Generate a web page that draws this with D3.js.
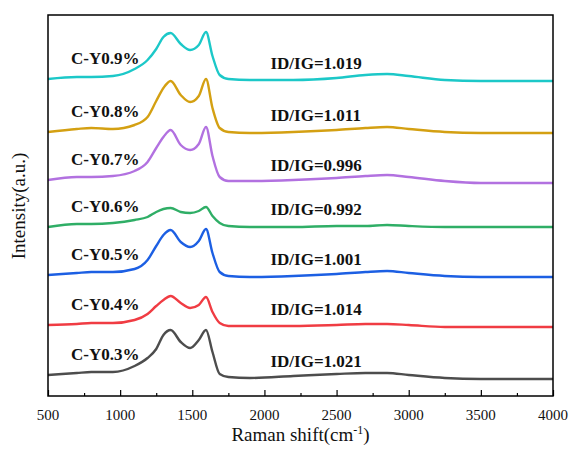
<!DOCTYPE html>
<html>
<head>
<meta charset="utf-8">
<title>Raman spectra</title>
<script src="https://d3js.org/d3.v7.min.js"></script>
<style>
    body { margin: 0; background: #fff; }
    .frame { fill: none; stroke: #000; stroke-width: 1.5px; }
    .spec { fill: none; stroke-width: 2.4px; stroke-linejoin: round; }
    .tick line { stroke: #000; stroke-width: 1.2px; }
    .lbl { font-family: "Liberation Serif"; font-weight: 700; font-size: 17px; fill: #111; }
    .axlbl { font-family: "Liberation Serif"; font-size: 15px; fill: #111; }
    .title { font-family: "Liberation Serif"; font-size: 19px; fill: #111; }
</style>
</head>
<body>
<script>
    var shift = [500, 700, 800, 950, 1100, 1190, 1250, 1300, 1350, 1420, 1485, 1545, 1595,
                 1640, 1690, 1750, 1900, 2200, 2500, 2700, 2850, 3000, 3250, 3500, 4000];

    // stacked intensities (a.u.)
    var y09 = [317, 319, 319, 320, 327, 336, 347, 359, 363, 352, 346, 351, 364, 340, 321, 317, 316, 316, 318, 321, 322, 320, 316, 315, 315];
    var y08 = [264, 267, 268, 267, 271, 279, 295, 308, 315, 301, 294, 300, 317, 288, 268, 264, 263, 264, 266, 268, 269, 267, 264, 263, 263];
    var y07 = [216, 219, 219, 220, 225, 234, 248, 259, 266, 251, 246, 252, 269, 240, 219, 215, 215, 216, 218, 220, 221, 219, 215, 213, 213];
    var y06 = [169, 172, 172, 173, 176, 179, 184, 187, 188, 184, 183, 185, 189, 180, 173, 170, 169, 169, 170, 170, 171, 170, 169, 169, 169];
    var y05 = [121, 123, 124, 124, 127, 136, 150, 161, 166, 154, 149, 155, 167, 143, 124, 120, 119, 120, 122, 124, 125, 123, 120, 119, 119];
    var y04 = [71, 72, 73, 73, 76, 82, 90, 96, 100, 93, 88, 91, 99, 84, 73, 70, 70, 70, 71, 72, 72, 71, 69, 69, 69];
    var y03 = [21, 23, 24, 24, 30, 38, 47, 61, 66, 54, 48, 56, 66, 44, 22, 19, 18, 20, 22, 23, 23, 21, 18, 17, 17];

    var samples = ["C-Y0.9%", "C-Y0.8%", "C-Y0.7%", "C-Y0.6%", "C-Y0.5%", "C-Y0.4%", "C-Y0.3%"];
    var ratios = ["1.019", "1.011", "0.996", "0.992", "1.001", "1.014", "1.021"];
    var colors = ["#1cc8c8", "#d4a012", "#b271e0", "#2fae66", "#1c5fe3", "#f03c43", "#4d4d4d"];
    var xTicks = [500, 1000, 1500, 2000, 2500, 3000, 3500, 4000];

    var series = [y09, y08, y07, y06, y05, y04, y03];

    var width = 570, height = 450;
    var mLeft = 48, mRight = 553, mTop = 15, mBottom = 396;

    var svg = d3.select("body").append("svg")
                .attr("width", width)
                .attr("height", height);

    var x = d3.scaleLinear().domain([500, 4000]).range([mLeft, mRight]);
    var y = d3.scaleLinear().domain([0, 381]).range([mBottom, mTop]);

    var line = d3.line()
                .x(function(d) { return x(d[0]); })
                .y(function(d) { return y(d[1]); })
                .curve(d3.curveMonotoneX);

    // spectra
    series.forEach(function(vals, i) {
        var pts = shift.map(function(s, j) { return [s, vals[j]]; });
        svg.append("path")
            .attr("class", "spec")
            .attr("stroke", colors[i])
            .attr("d", line(pts));

        svg.append("text")
            .attr("class", "lbl")
            .attr("x", mLeft + 23)
            .attr("y", y(vals[0]) - 15)
            .text(samples[i]);

        svg.append("text")
            .attr("class", "lbl")
            .attr("x", x(2000) + 6)
            .attr("y", y(vals[vals.length - 1]) - 12)
            .text("ID/IG=" + ratios[i]);
    });

    // bottom axis, ticks pointing inward
    var xAxis = d3.axisBottom(x)
                .tickValues(d3.range(500, 4001, 250))
                .tickSize(-6)
                .tickFormat("");
    var gx = svg.append("g")
                .attr("transform", "translate(0," + mBottom + ")")
                .call(xAxis);
    gx.select(".domain").remove();
    gx.selectAll(".tick line")
        .attr("y2", function(d) { return d % 500 === 0 ? -6 : -3; });

    svg.selectAll(".xlab")
        .data(xTicks)
        .enter().append("text")
            .attr("class", "axlbl")
            .attr("text-anchor", "middle")
            .attr("x", function(d) { return x(d); })
            .attr("y", mBottom + 24)
            .text(function(d) { return d; });

    svg.append("rect")
        .attr("class", "frame")
        .attr("x", mLeft)
        .attr("y", mTop)
        .attr("width", mRight - mLeft)
        .attr("height", mBottom - mTop);

    // axis titles
    var xt = svg.append("text")
                .attr("class", "title")
                .attr("text-anchor", "middle")
                .attr("x", (mLeft + mRight) / 2)
                .attr("y", 441);
    xt.append("tspan").text("Raman shift(cm");
    xt.append("tspan").attr("dy", -7).attr("font-size", "12px").text("-1");
    xt.append("tspan").attr("dy", 7).text(")");

    svg.append("text")
        .attr("class", "title")
        .attr("text-anchor", "middle")
        .attr("transform", "translate(25,206) rotate(-90)")
        .text("Intensity(a.u.)");
</script>
</body>
</html>
